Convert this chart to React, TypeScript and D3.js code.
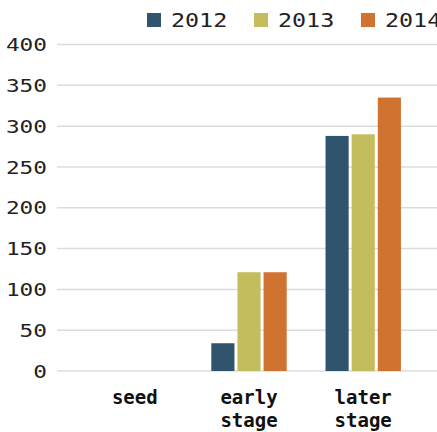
import React from "react";
import * as d3 from "d3";

const categories = ["seed", "early stage", "later stage"];
const seriesNames = ["2012", "2013", "2014"];
const values2012 = [0, 34, 288];
const values2013 = [0, 121, 290];
const values2014 = [0, 121, 335];
const yTicks = [0, 50, 100, 150, 200, 250, 300, 350, 400];
const colors = ["#30536e", "#c4bd5d", "#d07230"];

const W = 437;
const H = 432;
const FONT = "'DejaVu Sans Mono', monospace";
const STRETCH = 1.23;

export default function App() {
  const series = [values2012, values2013, values2014];
  const y = d3.scaleLinear().domain([0, 400]).range([371, 44.5]);
  const x0 = d3.scaleBand<string>().domain(categories).range([61, 437]).paddingInner(0.34).paddingOuter(0.316);
  const x1 = d3.scaleBand<string>().domain(seriesNames).range([0, x0.bandwidth()]).paddingInner(0.115).paddingOuter(0);
  const gridX0 = 57;

  return (
    <svg width={W} height={H} style={{ position: "absolute", left: 0, top: 0 }} fontFamily={FONT}>
      <rect width={W} height={H} fill="#fff" />
      {yTicks.map((t) => (
        <g key={t}>
          <line x1={gridX0} x2={W} y1={y(t)} y2={y(t)} stroke="#dcdcdc" strokeWidth={1.5} />
          <g transform={`translate(47,${y(t)}) scale(${STRETCH},1)`}>
            <text x={0} y={0} dy="0.36em" textAnchor="end" fontSize={18.5} fill="#222">
              {t}
            </text>
          </g>
        </g>
      ))}
      {categories.map((c, ci) => (
        <g key={c} transform={`translate(${x0(c)},0)`}>
          {seriesNames.map((s, si) => {
            const v = series[si][ci];
            if (!v) return null;
            return (
              <rect
                key={s}
                x={x1(s)}
                y={y(v)}
                width={x1.bandwidth()}
                height={y(0) - y(v)}
                fill={colors[si]}
              />
            );
          })}
          {c.split(" ").map((w, li) => (
            <text
              key={li}
              x={x0.bandwidth() / 2}
              y={404 + li * 23}
              textAnchor="middle"
              fontSize={19}
              fontWeight="bold"
              fill="#111"
            >
              {w}
            </text>
          ))}
        </g>
      ))}
      {seriesNames.map((s, i) => (
        <g key={s} transform={`translate(${147 + i * 107},0)`}>
          <rect x={0} y={13} width={14} height={14} fill={colors[i]} />
          <g transform={`translate(24,27) scale(${STRETCH},1)`}>
            <text x={0} y={0} fontSize={19} fill="#222">
              {s}
            </text>
          </g>
        </g>
      ))}
    </svg>
  );
}
